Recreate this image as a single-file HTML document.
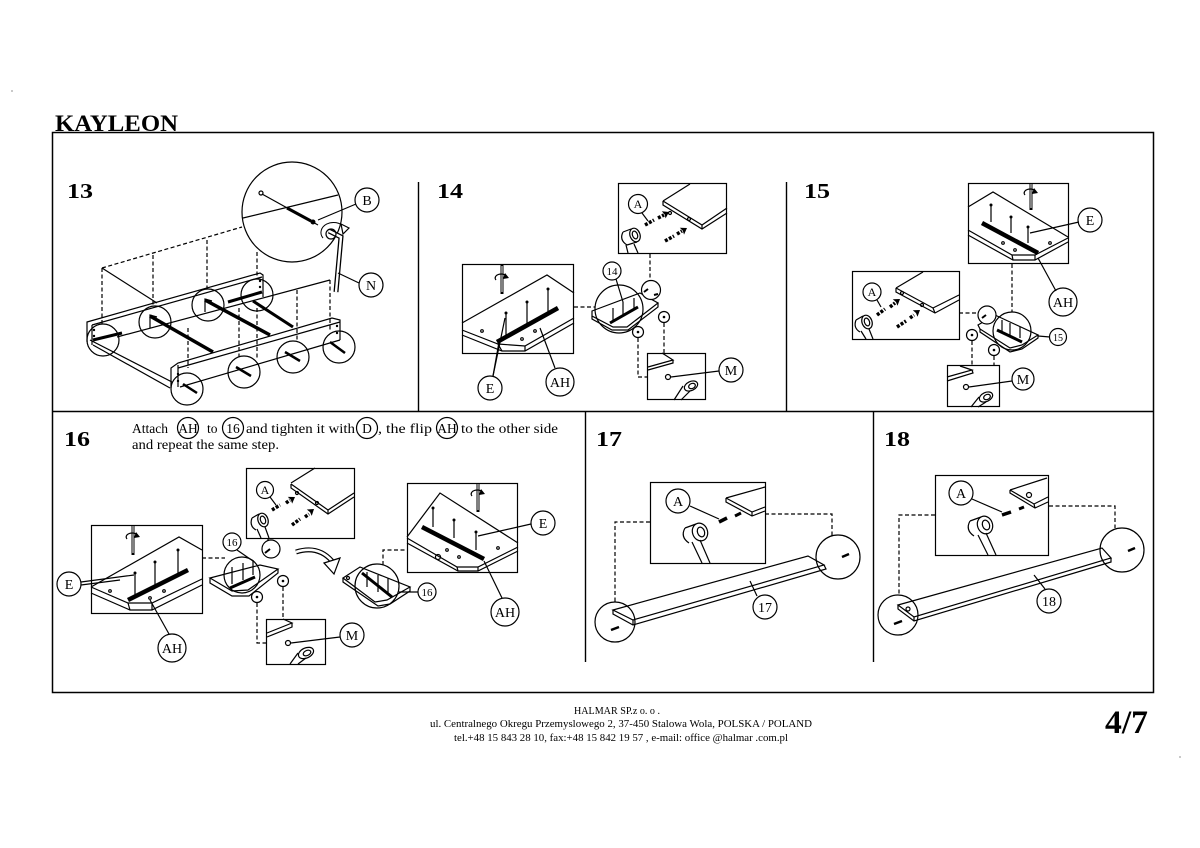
<!DOCTYPE html>
<html><head><meta charset="utf-8"><style>
html,body{margin:0;padding:0;background:#fff;}
svg{display:block}
text{font-family:"Liberation Serif",serif;fill:#000}
.s{fill:none;stroke:#000;stroke-width:1.2}
.w{fill:#fff;stroke:#000;stroke-width:1.2}
.k{stroke:#000;stroke-width:4;stroke-linecap:butt}
.dd{fill:none;stroke:#000;stroke-width:1.2;stroke-dasharray:4 2.5}
.dw{stroke:#000;stroke-width:3.5;stroke-dasharray:3 1.5}
.f{fill:#000;stroke:none}
</style></head><body>
<svg width="1200" height="848" viewBox="0 0 1200 848" xmlns="http://www.w3.org/2000/svg">
<defs>
<g id="rot"><path d="M-6,1 A6,4 0 1 1 5,-2" fill="none" stroke="#000" stroke-width="1.2"/><path d="M3,-6 L7,-1 L1,0 Z" fill="#000"/></g>
<g id="arr"><polygon points="0,0 -6,-4 -5,0 -6,4" fill="#000"/></g>
</defs>
<rect width="1200" height="848" fill="#fff"/>
<circle cx="12" cy="91" r="0.6" fill="#444"/>
<circle cx="1180" cy="757" r="0.6" fill="#444"/>

<!-- Title -->
<text x="55" y="131" font-size="23" font-weight="bold" textLength="123" lengthAdjust="spacingAndGlyphs">KAYLEON</text>

<!-- Frame -->
<rect x="52.5" y="132.5" width="1101" height="560" class="s" style="stroke-width:1.5"/>
<line x1="52" y1="411.5" x2="1154" y2="411.5" class="s" style="stroke-width:1.4"/>
<line x1="418.5" y1="182" x2="418.5" y2="411" class="s" style="stroke-width:1.4"/>
<line x1="786.5" y1="182" x2="786.5" y2="411" class="s" style="stroke-width:1.4"/>
<line x1="585.5" y1="411" x2="585.5" y2="662" class="s" style="stroke-width:1.4"/>
<line x1="873.5" y1="411" x2="873.5" y2="662" class="s" style="stroke-width:1.4"/>

<!-- Panel numbers -->
<g font-size="21" font-weight="bold">
<text x="67" y="198" textLength="26" lengthAdjust="spacingAndGlyphs">13</text>
<text x="437" y="198" textLength="26" lengthAdjust="spacingAndGlyphs">14</text>
<text x="804" y="198" textLength="26" lengthAdjust="spacingAndGlyphs">15</text>
<text x="64" y="446" textLength="26" lengthAdjust="spacingAndGlyphs">16</text>
<text x="596" y="446" textLength="26" lengthAdjust="spacingAndGlyphs">17</text>
<text x="884" y="446" textLength="26" lengthAdjust="spacingAndGlyphs">18</text>
</g>

<!-- ================= PANEL 13 ================= -->
<g>
<circle cx="292" cy="212" r="50" class="s"/>
<circle cx="261" cy="193" r="2" class="s"/>
<line x1="262" y1="194" x2="318" y2="225" class="s"/>
<line x1="287" y1="208" x2="311" y2="221" class="k" style="stroke-width:3"/>
<circle cx="313" cy="222" r="2.5" class="f"/>
<line x1="243" y1="218" x2="338" y2="195" class="s"/>
<line x1="356" y1="204" x2="318" y2="220" class="s"/>
<circle cx="367" cy="200" r="12" class="s"/>
<text x="367" y="205" font-size="14" text-anchor="middle">B</text>
<!-- allen key -->
<path d="M329,231 L341,237 L336,292" fill="none" stroke="#000" stroke-width="5" stroke-linejoin="miter"/>
<path d="M329,231 L341,237 L336,292" fill="none" stroke="#fff" stroke-width="2.4" stroke-linejoin="miter"/>
<circle cx="331" cy="234" r="5" class="s"/>
<path d="M323,238 A10,8 0 1 1 344,227" fill="none" stroke="#000" stroke-width="1"/>
<polygon points="341,224 349,228 343,234" class="w"/>
<line x1="359" y1="283" x2="338" y2="273" class="s"/>
<circle cx="371" cy="285" r="12" class="s"/>
<text x="371" y="290" font-size="14" text-anchor="middle">N</text>

<!-- dashed guide -->
<line x1="102" y1="268" x2="242" y2="227" class="dd"/>
<line x1="102" y1="268" x2="102" y2="324" class="dd"/>
<line x1="153" y1="255" x2="153" y2="306" class="dd"/>
<line x1="207" y1="240" x2="207" y2="289" class="dd"/>
<line x1="257" y1="252" x2="257" y2="279" class="dd"/>
<line x1="102" y1="268" x2="157" y2="303" class="s"/>

<!-- back rail -->
<polyline points="87,342 87,322 260,273 263,275 263,297" class="s"/>
<line x1="92" y1="325" x2="92" y2="345" class="s"/>
<line x1="92" y1="325" x2="262" y2="277" class="s"/>
<!-- left side -->
<line x1="90" y1="340" x2="172" y2="382" class="s"/>
<line x1="93" y1="345" x2="170" y2="388" class="s"/>
<!-- center line -->
<line x1="117" y1="337" x2="330" y2="280" class="s"/>
<line x1="330" y1="280" x2="330" y2="330" class="dd"/>
<!-- slats -->
<line x1="150" y1="316" x2="213" y2="352" class="k" style="stroke-width:3.5"/>
<line x1="205" y1="300" x2="270" y2="335" class="k" style="stroke-width:3.5"/>
<line x1="253" y1="301" x2="293" y2="327" class="k" style="stroke-width:3"/>
<line x1="93" y1="340" x2="122" y2="333" class="k" style="stroke-width:3"/>
<line x1="228" y1="302" x2="262" y2="292" class="k" style="stroke-width:3"/>
<polyline points="150,328 150,315 157,317" class="s"/>
<polyline points="205,312 205,299 212,301" class="s"/>
<!-- front rail -->
<polyline points="171,388 171,368 178,363 332,318 340,320 340,340" class="s"/>
<line x1="178" y1="368" x2="340" y2="322" class="s"/>
<line x1="178" y1="365" x2="178" y2="387" class="s"/>
<line x1="180" y1="387" x2="340" y2="340" class="s"/>
<!-- front dashed -->
<line x1="188" y1="328" x2="188" y2="368" class="dd"/>
<line x1="239" y1="308" x2="239" y2="357" class="dd"/>
<line x1="257" y1="308" x2="257" y2="360" class="dd"/>
<line x1="297" y1="290" x2="297" y2="340" class="dd"/>
<!-- dowel dots -->
<g class="f">
<circle cx="94" cy="330" r="1.2"/><circle cx="94" cy="336" r="1.2"/>
<circle cx="178" cy="374" r="1.2"/><circle cx="178" cy="381" r="1.2"/>
<circle cx="260" cy="281" r="1.2"/><circle cx="260" cy="287" r="1.2"/>
<circle cx="337" cy="326" r="1.2"/><circle cx="337" cy="333" r="1.2"/>
</g>
<!-- circles -->
<g class="s">
<circle cx="103" cy="340" r="16"/>
<circle cx="155" cy="322" r="16"/>
<circle cx="208" cy="305" r="16"/>
<circle cx="257" cy="295" r="16"/>
<circle cx="187" cy="389" r="16"/>
<circle cx="244" cy="372" r="16"/>
<circle cx="293" cy="357" r="16"/>
<circle cx="339" cy="347" r="16"/>
</g>
<line x1="183" y1="384" x2="197" y2="393" class="k" style="stroke-width:2.5"/>
<line x1="236" y1="367" x2="251" y2="376" class="k" style="stroke-width:2.5"/>
<line x1="285" y1="352" x2="300" y2="361" class="k" style="stroke-width:2.5"/>
<line x1="330" y1="342" x2="345" y2="353" class="k" style="stroke-width:2.5"/>
</g>

<!-- ================= PANEL 14 ================= -->
<g>
<!-- top box -->
<rect x="618.5" y="183.5" width="108" height="70" class="s"/>
<polyline points="663,201 690,184" class="s"/>
<polyline points="663,201 702,225 727,208" class="s"/>
<polyline points="663,201 663,205 702,229 727,213" class="s"/>
<line x1="702" y1="225" x2="702" y2="229" class="s"/>
<circle cx="670" cy="213" r="1.5" class="s"/><circle cx="689" cy="219" r="1.5" class="s"/>
<line x1="645" y1="225" x2="654" y2="220" class="dw"/>
<line x1="658" y1="218" x2="664" y2="215" class="dw"/>
<use href="#arr" transform="translate(669,212) rotate(-28)"/>
<line x1="665" y1="241" x2="674" y2="236" class="dw"/>
<line x1="677" y1="234" x2="682" y2="231" class="dw"/>
<use href="#arr" transform="translate(687,228) rotate(-32)"/>
<circle cx="638" cy="204" r="9.5" class="s"/>
<text x="638" y="208" font-size="12" text-anchor="middle">A</text>
<line x1="642" y1="213" x2="648" y2="221" class="s"/>
<ellipse cx="635" cy="235" rx="5" ry="7" class="w" transform="rotate(-20 635 235)"/>
<ellipse cx="635" cy="235" rx="2.5" ry="4" class="s" transform="rotate(-20 635 235)"/>
<line x1="631" y1="229" x2="623" y2="232" class="s"/>
<line x1="637" y1="242" x2="627" y2="245" class="s"/>
<path d="M623,232 Q619,240 627,245" class="s"/>
<line x1="626" y1="245" x2="628" y2="253" class="s"/>
<line x1="634" y1="244" x2="638" y2="253" class="s"/>
<!-- left box -->
<rect x="462.5" y="264.5" width="111" height="89" class="s"/>
<polyline points="462,323 547,275 574,293" class="s"/>
<polyline points="462,330 498,344 525,346 574,318" class="s"/>
<polyline points="462,335 502,351 525,351 574,323" class="s"/>
<line x1="498" y1="344" x2="502" y2="351" class="s"/>
<line x1="525" y1="346" x2="525" y2="351" class="s"/>
<line x1="497" y1="342" x2="558" y2="308" class="k" style="stroke-width:4.5"/>
<g class="s"><line x1="506" y1="313" x2="506" y2="337"/><line x1="527" y1="302" x2="527" y2="327"/><line x1="548" y1="289" x2="548" y2="313"/></g>
<g class="f"><circle cx="506" cy="313" r="1.5"/><circle cx="527" cy="302" r="1.5"/><circle cx="548" cy="289" r="1.5"/></g>
<line x1="502" y1="265" x2="502" y2="294" stroke="#000" stroke-width="3"/>
<line x1="502" y1="266" x2="502" y2="292" stroke="#fff" stroke-width="1"/>
<use href="#rot" x="502" y="279"/>
<g class="s"><circle cx="482" cy="331" r="1.3"/><circle cx="535" cy="331" r="1.3"/><circle cx="522" cy="339" r="1.3"/></g>
<line x1="493" y1="376" x2="505" y2="318" class="s"/>
<line x1="493" y1="376" x2="499" y2="342" class="s"/>
<circle cx="490" cy="388" r="12" class="s"/>
<text x="490" y="393" font-size="14" text-anchor="middle">E</text>
<line x1="555" y1="368" x2="540" y2="328" class="s"/>
<circle cx="560" cy="382" r="14" class="s"/>
<text x="560" y="387" font-size="14" text-anchor="middle">AH</text>
<!-- middle -->
<polygon points="592,311 640,293 658,303 627,327 613,327 592,316" class="w"/>
<polyline points="592,316 592,319 612,330 628,330 658,307 658,303" class="s"/>
<circle cx="619" cy="309" r="24" class="s"/>
<line x1="610" y1="323" x2="638" y2="307" class="k" style="stroke-width:3"/>
<g class="s"><line x1="613" y1="308" x2="613" y2="320"/><line x1="623" y1="302" x2="623" y2="315"/><line x1="634" y1="298" x2="634" y2="310"/></g>
<circle cx="612" cy="271" r="9" class="s"/>
<text x="612" y="275" font-size="11" text-anchor="middle">14</text>
<line x1="616" y1="279" x2="623" y2="302" class="s"/>
<circle cx="651" cy="290" r="9.5" class="w"/>
<line x1="644" y1="292" x2="648" y2="289" class="k" style="stroke-width:2"/>
<line x1="654" y1="295" x2="658" y2="294" class="k" style="stroke-width:2"/>
<circle cx="664" cy="317" r="5.5" class="s"/><circle cx="664" cy="317" r="1.3" class="f"/>
<circle cx="638" cy="332" r="5.5" class="s"/><circle cx="638" cy="332" r="1.3" class="f"/>
<line x1="650" y1="254" x2="650" y2="281" class="dd"/>
<line x1="574" y1="307" x2="595" y2="307" class="dd"/>
<line x1="664" y1="323" x2="664" y2="353" class="dd"/>
<polyline points="638,338 638,377 648,377" class="dd"/>
<!-- bottom box -->
<rect x="647.5" y="353.5" width="58" height="46" class="s"/>
<polyline points="662,353 673,360 648,367" class="s"/>
<polyline points="673,360 673,363 648,370" class="s"/>
<circle cx="668" cy="377" r="2.5" class="s"/>
<line x1="671" y1="377" x2="719" y2="371" class="s"/>
<circle cx="731" cy="370" r="12" class="s"/>
<text x="731" y="375" font-size="14" text-anchor="middle">M</text>
<ellipse cx="691" cy="386" rx="7" ry="4.5" class="w" transform="rotate(-25 691 386)"/>
<ellipse cx="692" cy="386" rx="3.5" ry="2.5" class="s" transform="rotate(-25 692 386)"/>
<line x1="683" y1="386" x2="674" y2="400" class="s"/>
<line x1="690" y1="391" x2="681" y2="400" class="s"/>
</g>

<!-- ================= PANEL 15 ================= -->
<g>
<!-- top box -->
<rect x="968.5" y="183.5" width="100" height="80" class="s"/>
<polyline points="968,207 993,192 1068,237" class="s"/>
<polyline points="968,230 1012,255 1035,255 1068,238" class="s"/>
<polyline points="968,235 1013,260 1035,260 1068,242" class="s"/>
<line x1="1012" y1="255" x2="1013" y2="260" class="s"/>
<line x1="1035" y1="255" x2="1035" y2="260" class="s"/>
<line x1="982" y1="223" x2="1038" y2="253" class="k" style="stroke-width:4.5"/>
<g class="s"><line x1="991" y1="205" x2="991" y2="222"/><line x1="1011" y1="217" x2="1011" y2="233"/><line x1="1028" y1="227" x2="1028" y2="243"/></g>
<g class="f"><circle cx="991" cy="205" r="1.5"/><circle cx="1011" cy="217" r="1.5"/><circle cx="1028" cy="227" r="1.5"/></g>
<line x1="1031" y1="183" x2="1031" y2="210" stroke="#000" stroke-width="3"/>
<line x1="1031" y1="184" x2="1031" y2="208" stroke="#fff" stroke-width="1"/>
<use href="#rot" x="1031" y="194"/>
<g class="s"><circle cx="1003" cy="243" r="1.3"/><circle cx="1015" cy="250" r="1.3"/><circle cx="1050" cy="243" r="1.3"/></g>
<line x1="1079" y1="222" x2="1030" y2="233" class="s"/>
<circle cx="1090" cy="220" r="12" class="s"/>
<text x="1090" y="225" font-size="14" text-anchor="middle">E</text>
<line x1="1056" y1="291" x2="1038" y2="258" class="s"/>
<circle cx="1063" cy="302" r="14" class="s"/>
<text x="1063" y="307" font-size="14" text-anchor="middle">AH</text>
<!-- left box -->
<rect x="852.5" y="271.5" width="107" height="68" class="s"/>
<polyline points="896,288 923,272" class="s"/>
<polyline points="896,288 933,308 959,295" class="s"/>
<polyline points="896,288 896,292 935,313 959,300" class="s"/>
<line x1="933" y1="308" x2="935" y2="313" class="s"/>
<circle cx="902" cy="293" r="1.5" class="s"/><circle cx="922" cy="305" r="1.5" class="s"/>
<line x1="877" y1="315" x2="885" y2="309" class="dw"/>
<line x1="890" y1="307" x2="895" y2="303" class="dw"/>
<use href="#arr" transform="translate(900,299) rotate(-36)"/>
<line x1="897" y1="327" x2="906" y2="321" class="dw"/>
<line x1="910" y1="318" x2="914" y2="315" class="dw"/>
<use href="#arr" transform="translate(920,310) rotate(-36)"/>
<circle cx="872" cy="292" r="9" class="s"/>
<text x="872" y="296" font-size="12" text-anchor="middle">A</text>
<line x1="877" y1="300" x2="881" y2="307" class="s"/>
<ellipse cx="867" cy="322" rx="5" ry="7" class="w" transform="rotate(-20 867 322)"/>
<ellipse cx="867" cy="322" rx="2.5" ry="4" class="s" transform="rotate(-20 867 322)"/>
<line x1="863" y1="316" x2="856" y2="320" class="s"/>
<path d="M856,320 Q853,328 860,332" class="s"/>
<line x1="861" y1="331" x2="866" y2="339" class="s"/>
<line x1="869" y1="329" x2="873" y2="339" class="s"/>
<!-- middle -->
<polygon points="978,325 995,315 1038,335 1022,345 1010,348 980,329" class="w"/>
<polyline points="980,329 980,332 1010,352 1022,349 1038,338 1038,335" class="s"/>
<circle cx="1012" cy="331" r="19" class="s"/>
<line x1="997" y1="330" x2="1022" y2="342" class="k" style="stroke-width:3"/>
<g class="s"><line x1="1002" y1="320" x2="1002" y2="332"/><line x1="1010" y1="323" x2="1010" y2="335"/><line x1="1020" y1="327" x2="1020" y2="338"/></g>
<circle cx="987" cy="315" r="9" class="w"/>
<line x1="982" y1="318" x2="986" y2="315" class="k" style="stroke-width:2"/>
<line x1="1038" y1="336" x2="1050" y2="337" class="s"/>
<circle cx="1058" cy="337" r="8.5" class="s"/>
<text x="1058" y="341" font-size="10" text-anchor="middle">15</text>
<circle cx="972" cy="335" r="5.5" class="s"/><circle cx="972" cy="335" r="1.3" class="f"/>
<circle cx="994" cy="350" r="5.5" class="s"/><circle cx="994" cy="350" r="1.3" class="f"/>
<line x1="1012" y1="264" x2="1012" y2="312" class="dd"/>
<line x1="959" y1="313" x2="978" y2="313" class="dd"/>
<line x1="972" y1="341" x2="972" y2="365" class="dd"/>
<line x1="994" y1="356" x2="994" y2="365" class="dd"/>
<!-- bottom box -->
<rect x="947.5" y="365.5" width="52" height="41" class="s"/>
<polyline points="960,366 972,370 947,377" class="s"/>
<polyline points="972,370 973,373 947,381" class="s"/>
<circle cx="966" cy="387" r="2.5" class="s"/>
<line x1="969" y1="387" x2="1012" y2="381" class="s"/>
<circle cx="1023" cy="379" r="11" class="s"/>
<text x="1023" y="384" font-size="14" text-anchor="middle">M</text>
<ellipse cx="986" cy="397" rx="7" ry="4.5" class="w" transform="rotate(-25 986 397)"/>
<ellipse cx="987" cy="397" rx="3.5" ry="2.5" class="s" transform="rotate(-25 987 397)"/>
<line x1="979" y1="397" x2="971" y2="407" class="s"/>
<line x1="986" y1="402" x2="978" y2="407" class="s"/>
</g>

<!-- ================= PANEL 16 ================= -->
<g font-size="13.5">
<text x="132" y="433">Attach</text>
<circle cx="188" cy="428" r="10.5" class="s"/>
<text x="188" y="433" text-anchor="middle">AH</text>
<text x="207" y="433">to</text>
<circle cx="233" cy="428" r="10.5" class="s"/>
<text x="233" y="433" text-anchor="middle">16</text>
<text x="246" y="433" textLength="109" lengthAdjust="spacingAndGlyphs">and tighten it with</text>
<circle cx="367" cy="428" r="10.5" class="s"/>
<text x="367" y="433" text-anchor="middle">D</text>
<text x="378" y="433" textLength="54" lengthAdjust="spacingAndGlyphs">, the flip</text>
<circle cx="447" cy="428" r="10.5" class="s"/>
<text x="447" y="433" text-anchor="middle">AH</text>
<text x="461" y="433" textLength="97" lengthAdjust="spacingAndGlyphs">to the other side</text>
<text x="132" y="449" textLength="147" lengthAdjust="spacingAndGlyphs">and repeat the same step.</text>
</g>
<g>
<!-- left box -->
<rect x="91.5" y="525.5" width="111" height="88" class="s"/>
<polyline points="91,587 179,537 202,550" class="s"/>
<polyline points="91,587 128,603 152,603 202,579" class="s"/>
<polyline points="91,593 130,610 152,610 202,585" class="s"/>
<line x1="128" y1="603" x2="130" y2="610" class="s"/>
<line x1="152" y1="603" x2="152" y2="610" class="s"/>
<line x1="128" y1="600" x2="188" y2="570" class="k" style="stroke-width:4.5"/>
<g class="s"><line x1="135" y1="573" x2="135" y2="597"/><line x1="155" y1="562" x2="155" y2="587"/><line x1="178" y1="550" x2="178" y2="573"/></g>
<g class="f"><circle cx="135" cy="573" r="1.5"/><circle cx="155" cy="562" r="1.5"/><circle cx="178" cy="550" r="1.5"/></g>
<line x1="133" y1="525" x2="133" y2="555" stroke="#000" stroke-width="3"/>
<line x1="133" y1="526" x2="133" y2="553" stroke="#fff" stroke-width="1"/>
<use href="#rot" x="133" y="538"/>
<g class="s"><circle cx="110" cy="591" r="1.3"/><circle cx="164" cy="591" r="1.3"/><circle cx="150" cy="598" r="1.3"/></g>
<line x1="81" y1="582" x2="134" y2="575" class="s"/>
<line x1="81" y1="585" x2="120" y2="580" class="s"/>
<circle cx="69" cy="584" r="12" class="s"/>
<text x="69" y="589" font-size="14" text-anchor="middle">E</text>
<line x1="169" y1="634" x2="150" y2="600" class="s"/>
<circle cx="172" cy="648" r="14" class="s"/>
<text x="172" y="653" font-size="14" text-anchor="middle">AH</text>
<!-- top box -->
<rect x="246.5" y="468.5" width="108" height="70" class="s"/>
<polyline points="291,483 315,468" class="s"/>
<polyline points="291,484 328,510 354,493" class="s"/>
<polyline points="291,484 291,488 328,514 354,497" class="s"/>
<line x1="328" y1="510" x2="328" y2="514" class="s"/>
<circle cx="297" cy="493" r="1.5" class="s"/><circle cx="317" cy="503" r="1.5" class="s"/>
<line x1="272" y1="510" x2="280" y2="505" class="dw"/>
<line x1="286" y1="503" x2="290" y2="500" class="dw"/>
<use href="#arr" transform="translate(295,497) rotate(-33)"/>
<line x1="292" y1="525" x2="300" y2="519" class="dw"/>
<line x1="305" y1="517" x2="309" y2="514" class="dw"/>
<use href="#arr" transform="translate(314,509) rotate(-38)"/>
<circle cx="265" cy="490" r="8.5" class="s"/>
<text x="265" y="494" font-size="12" text-anchor="middle">A</text>
<line x1="270" y1="497" x2="276" y2="505" class="s"/>
<ellipse cx="263" cy="520" rx="5" ry="7" class="w" transform="rotate(-20 263 520)"/>
<ellipse cx="263" cy="520" rx="2.5" ry="4" class="s" transform="rotate(-20 263 520)"/>
<line x1="259" y1="514" x2="252" y2="518" class="s"/>
<path d="M252,518 Q249,526 256,530" class="s"/>
<line x1="257" y1="529" x2="261" y2="538" class="s"/>
<line x1="265" y1="527" x2="269" y2="538" class="s"/>
<!-- middle piece 1 -->
<polygon points="210,578 260,565 278,569 248,590 232,591" class="w"/>
<polyline points="210,578 210,583 232,596 249,596 278,573 278,569" class="s"/>
<circle cx="242" cy="575" r="18" class="s"/>
<line x1="230" y1="588" x2="255" y2="577" class="k" style="stroke-width:3"/>
<g class="s"><line x1="232" y1="567" x2="232" y2="584"/><line x1="243" y1="563" x2="243" y2="580"/><line x1="253" y1="560" x2="253" y2="575"/></g>
<circle cx="232" cy="542" r="9" class="s"/>
<text x="232" y="546" font-size="11" text-anchor="middle">16</text>
<line x1="237" y1="550" x2="253" y2="561" class="s"/>
<circle cx="271" cy="549" r="9" class="w"/>
<line x1="265" y1="553" x2="270" y2="549" class="k" style="stroke-width:2"/>
<circle cx="283" cy="581" r="5.5" class="s"/><circle cx="283" cy="581" r="1.3" class="f"/>
<circle cx="257" cy="597" r="5.5" class="s"/><circle cx="257" cy="597" r="1.3" class="f"/>
<line x1="268" y1="538" x2="268" y2="541" class="dd"/>
<line x1="202" y1="558" x2="225" y2="558" class="dd"/>
<line x1="283" y1="587" x2="283" y2="619" class="dd"/>
<polyline points="257,603 257,643 267,643" class="dd"/>
<!-- bottom box -->
<rect x="266.5" y="619.5" width="59" height="45" class="s"/>
<polyline points="283,619 292,623 267,633" class="s"/>
<polyline points="292,623 292,627 267,637" class="s"/>
<circle cx="288" cy="643" r="2.5" class="s"/>
<line x1="291" y1="643" x2="340" y2="637" class="s"/>
<circle cx="352" cy="635" r="12" class="s"/>
<text x="352" y="640" font-size="14" text-anchor="middle">M</text>
<ellipse cx="306" cy="653" rx="8" ry="5" class="w" transform="rotate(-25 306 653)"/>
<ellipse cx="307" cy="653" rx="4" ry="2.5" class="s" transform="rotate(-25 307 653)"/>
<line x1="298" y1="653" x2="290" y2="664" class="s"/>
<line x1="306" y1="658" x2="298" y2="664" class="s"/>
<!-- curved arrow -->
<path d="M296,552 Q318,545 332,561" fill="none" stroke="#000" stroke-width="5"/>
<path d="M296,552 Q318,545 332,561" fill="none" stroke="#fff" stroke-width="2.6"/>
<polygon points="324,563 340,558 334,574" class="w"/>
<!-- middle piece 2 -->
<polygon points="343,578 360,567 410,587 387,600 375,602" class="w"/>
<polyline points="343,578 343,582 378,606 390,604 410,591 410,587" class="s"/>
<circle cx="377" cy="586" r="22" class="s"/>
<line x1="362" y1="573" x2="392" y2="597" class="k" style="stroke-width:3"/>
<g class="s"><line x1="367" y1="572" x2="367" y2="587"/><line x1="378" y1="575" x2="378" y2="592"/><line x1="388" y1="578" x2="388" y2="595"/></g>
<circle cx="348" cy="578" r="1.5" class="s"/>
<line x1="399" y1="592" x2="418" y2="592" class="s"/>
<circle cx="427" cy="592" r="9" class="s"/>
<text x="427" y="596" font-size="11" text-anchor="middle">16</text>
<polyline points="383,565 383,550 407,550" class="dd"/>
<!-- right box -->
<rect x="407.5" y="483.5" width="110" height="89" class="s"/>
<polyline points="407,537 440,493 518,543" class="s"/>
<polyline points="407,538 457,567 478,567 518,547" class="s"/>
<polyline points="407,543 458,571 478,571 518,551" class="s"/>
<line x1="457" y1="567" x2="458" y2="571" class="s"/>
<line x1="478" y1="567" x2="478" y2="571" class="s"/>
<line x1="422" y1="527" x2="484" y2="559" class="k" style="stroke-width:4.5"/>
<g class="s"><line x1="433" y1="508" x2="433" y2="527"/><line x1="454" y1="520" x2="454" y2="538"/><line x1="476" y1="532" x2="476" y2="550"/></g>
<g class="f"><circle cx="433" cy="508" r="1.5"/><circle cx="454" cy="520" r="1.5"/><circle cx="476" cy="532" r="1.5"/></g>
<line x1="478" y1="483" x2="478" y2="512" stroke="#000" stroke-width="3"/>
<line x1="478" y1="484" x2="478" y2="510" stroke="#fff" stroke-width="1"/>
<use href="#rot" x="478" y="495"/>
<g class="s"><circle cx="447" cy="550" r="1.3"/><circle cx="459" cy="557" r="1.3"/><circle cx="498" cy="548" r="1.3"/><circle cx="438" cy="557" r="2.5"/></g>
<line x1="531" y1="524" x2="478" y2="536" class="s"/>
<circle cx="543" cy="523" r="12" class="s"/>
<text x="543" y="528" font-size="14" text-anchor="middle">E</text>
<line x1="502" y1="598" x2="484" y2="561" class="s"/>
<circle cx="505" cy="612" r="14" class="s"/>
<text x="505" y="617" font-size="14" text-anchor="middle">AH</text>
</g>

<!-- ================= PANEL 17 ================= -->
<g>
<rect x="650.5" y="482.5" width="115" height="81" class="s"/>
<polyline points="726,498 765,487" class="s"/>
<polyline points="726,498 752,512 765,507" class="s"/>
<polyline points="726,498 726,502 752,516 765,511" class="s"/>
<line x1="752" y1="512" x2="752" y2="516" class="s"/>
<line x1="719" y1="522" x2="727" y2="518" class="k" style="stroke-width:3.5"/>
<line x1="735" y1="516" x2="741" y2="513" class="k" style="stroke-width:3"/>
<circle cx="678" cy="501" r="12" class="s"/>
<text x="678" y="506" font-size="14" text-anchor="middle">A</text>
<line x1="690" y1="506" x2="719" y2="519" class="s"/>
<ellipse cx="700" cy="532" rx="7.5" ry="9" class="w" transform="rotate(-20 700 532)"/>
<ellipse cx="701" cy="532" rx="3.5" ry="5" class="s" transform="rotate(-20 701 532)"/>
<line x1="696" y1="524" x2="685" y2="528" class="s"/>
<path d="M685,528 Q680,537 689,543" class="s"/>
<line x1="692" y1="542" x2="702" y2="563" class="s"/>
<line x1="700" y1="540" x2="710" y2="563" class="s"/>
<!-- long board -->
<polygon points="613,610 808,556 824,565 633,620" class="w"/>
<polyline points="613,610 613,614 633,625 826,569 824,565" class="s"/>
<line x1="633" y1="620" x2="633" y2="625" class="s"/>
<circle cx="615" cy="622" r="20" class="s"/>
<circle cx="838" cy="557" r="22" class="s"/>
<line x1="611" y1="630" x2="619" y2="627" class="k" style="stroke-width:2.5"/>
<line x1="842" y1="557" x2="849" y2="554" class="k" style="stroke-width:2.5"/>
<line x1="757" y1="596" x2="750" y2="581" class="s"/>
<circle cx="765" cy="607" r="12" class="s"/>
<text x="765" y="612" font-size="14" text-anchor="middle">17</text>
<polyline points="650,522 615,522 615,602" class="dd"/>
<polyline points="765,514 832,514 832,536" class="dd"/>
</g>

<!-- ================= PANEL 18 ================= -->
<g>
<rect x="935.5" y="475.5" width="113" height="80" class="s"/>
<polyline points="1010,490 1047,478" class="s"/>
<polyline points="1010,490 1034,504 1048,497" class="s"/>
<polyline points="1010,490 1010,493 1035,508 1048,502" class="s"/>
<line x1="1034" y1="504" x2="1035" y2="508" class="s"/>
<circle cx="1029" cy="495" r="2.5" class="s"/>
<line x1="1002" y1="515" x2="1011" y2="512" class="k" style="stroke-width:3.5"/>
<line x1="1019" y1="509" x2="1024" y2="507" class="k" style="stroke-width:3"/>
<circle cx="961" cy="493" r="12" class="s"/>
<text x="961" y="498" font-size="14" text-anchor="middle">A</text>
<line x1="972" y1="499" x2="1002" y2="512" class="s"/>
<ellipse cx="985" cy="525" rx="7.5" ry="9" class="w" transform="rotate(-20 985 525)"/>
<ellipse cx="986" cy="525" rx="3.5" ry="5" class="s" transform="rotate(-20 986 525)"/>
<line x1="981" y1="517" x2="970" y2="521" class="s"/>
<path d="M970,521 Q965,530 974,536" class="s"/>
<line x1="978" y1="535" x2="988" y2="555" class="s"/>
<line x1="986" y1="533" x2="996" y2="555" class="s"/>
<!-- long board -->
<polygon points="898,605 1102,548 1111,558 914,617" class="w"/>
<polyline points="898,605 898,609 914,621 1111,562 1111,558" class="s"/>
<line x1="914" y1="617" x2="914" y2="621" class="s"/>
<circle cx="898" cy="615" r="20" class="s"/>
<circle cx="1122" cy="550" r="22" class="s"/>
<circle cx="908" cy="609" r="2" class="s"/>
<line x1="894" y1="624" x2="902" y2="621" class="k" style="stroke-width:2.5"/>
<line x1="1128" y1="551" x2="1135" y2="548" class="k" style="stroke-width:2.5"/>
<line x1="1045" y1="589" x2="1034" y2="575" class="s"/>
<circle cx="1049" cy="601" r="12" class="s"/>
<text x="1049" y="606" font-size="14" text-anchor="middle">18</text>
<polyline points="935,515 899,515 899,595" class="dd"/>
<polyline points="1049,506 1115,506 1115,528" class="dd"/>
</g>

<!-- Footer -->
<g font-size="11" text-anchor="middle">
<text x="617" y="714" textLength="86" lengthAdjust="spacingAndGlyphs">HALMAR SP.z o. o .</text>
<text x="621" y="727" textLength="382" lengthAdjust="spacingAndGlyphs">ul. Centralnego Okregu Przemyslowego 2, 37-450 Stalowa Wola, POLSKA / POLAND</text>
<text x="621" y="741" textLength="334" lengthAdjust="spacingAndGlyphs">tel.+48 15 843 28 10, fax:+48 15 842 19 57 , e-mail: office @halmar .com.pl</text>
</g>
<text x="1105" y="733" font-size="33" font-weight="bold" textLength="43" lengthAdjust="spacingAndGlyphs">4/7</text>
</svg>
</body></html>
